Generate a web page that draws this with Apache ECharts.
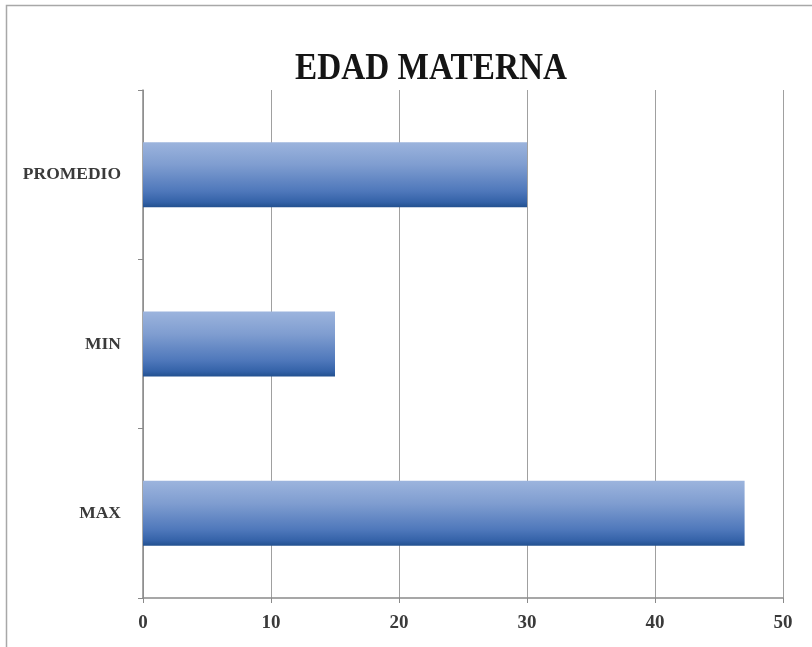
<!DOCTYPE html>
<html>
<head>
<meta charset="utf-8">
<style>
  html, body { margin: 0; padding: 0; background: #ffffff; }
  #chart { width: 812px; height: 647px; }
</style>
<script src="https://cdn.jsdelivr.net/npm/echarts@6/dist/echarts.min.js"></script>
</head>
<body>
<div id="chart"></div>
<script>
// Maternal age summary (years)
const categories = ['MAX', 'MIN', 'PROMEDIO'];
const values = [47, 15, 30];
const xTicks = [0, 10, 20, 30, 40, 50];

const chart = echarts.init(document.getElementById('chart'));

const barFill = new echarts.graphic.LinearGradient(0, 0, 0, 1, [
  { offset: 0, color: '#9cb4dd' },
  { offset: 0.35, color: '#7f9dd0' },
  { offset: 0.75, color: '#4f78bb' },
  { offset: 0.92, color: '#3462a8' },
  { offset: 1, color: '#22508f' }
]);

chart.setOption({
  backgroundColor: '#ffffff',
  animation: false,
  graphic: [
    {
      type: 'rect',
      shape: { x: 6.5, y: 5.5, width: 900, height: 700 },
      style: { fill: 'none', stroke: '#a8a8a8', lineWidth: 1.5 },
      silent: true
    },
    {
      // condensed bold serif heading
      type: 'text',
      x: 431,
      y: 69,
      scaleX: 0.875,
      silent: true,
      style: {
        text: 'EDAD MATERNA',
        fontFamily: 'Liberation Serif',
        fontWeight: 'bold',
        fontSize: 38,
        fill: '#151515',
        align: 'center',
        verticalAlign: 'middle'
      }
    }
  ],
  grid: { left: 143, right: 29, top: 90, bottom: 49 },
  xAxis: {
    type: 'value',
    min: xTicks[0],
    max: xTicks[xTicks.length - 1],
    interval: 10,
    axisLine: { show: true, lineStyle: { color: '#8a8a8a', width: 1.5 } },
    axisTick: { show: true, length: 5, lineStyle: { color: '#8a8a8a' } },
    splitLine: { show: true, lineStyle: { color: '#a0a0a0', width: 1 } },
    axisLabel: {
      margin: 16,
      fontFamily: 'Liberation Serif',
      fontWeight: 'bold',
      fontSize: 19,
      color: '#3a3a3a'
    }
  },
  yAxis: {
    type: 'category',
    data: categories,
    axisLine: { show: true, lineStyle: { color: '#8a8a8a', width: 1.5 } },
    axisTick: { show: true, length: 5, lineStyle: { color: '#8a8a8a' } },
    splitLine: { show: false },
    axisLabel: {
      margin: 22,
      fontFamily: 'Liberation Serif',
      fontWeight: 'bold',
      fontSize: 17.5,
      color: '#3a3a3a'
    }
  },
  series: [{
    type: 'bar',
    data: values,
    barWidth: 65,
    itemStyle: { color: barFill },
    silent: true
  }]
});
</script>
</body>
</html>
